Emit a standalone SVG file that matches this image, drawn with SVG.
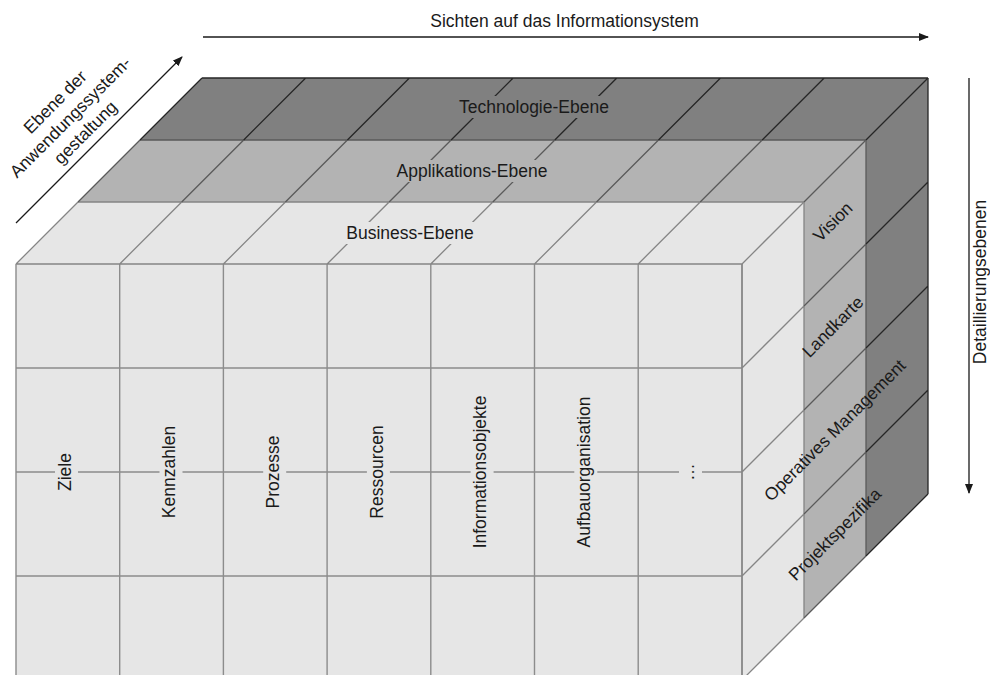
<svg xmlns="http://www.w3.org/2000/svg" width="990" height="675" viewBox="0 0 990 675">
  <style>
    text { font-family: "Liberation Sans", Arial, sans-serif; font-size: 17.5px; fill: #1a1a1a; }
    .mid { text-anchor: middle; }
    .light { fill: #e6e6e6; }
    .medium { fill: #b3b3b3; }
    .dark { fill: #808080; }
    .ln1 { stroke: #858585; stroke-width: 1.3; fill: none; }
    .ln2 { stroke: #5a5a5a; stroke-width: 1.3; fill: none; }
    .ln3 { stroke: #262626; stroke-width: 1.3; fill: none; }
    .grid { stroke: #8c8c8c; stroke-width: 1.4; fill: none; }
    .axis { stroke: #1a1a1a; stroke-width: 1.3; fill: none; marker-end: url(#head); }
  </style>
  <defs>
    <marker id="head" viewBox="0 0 10 8" refX="9" refY="4" markerWidth="10" markerHeight="8" markerUnits="userSpaceOnUse" orient="auto">
      <path d="M0,0 L10,4 L0,8 Z" fill="#1a1a1a"/>
    </marker>
  </defs>

  <!-- cube faces -->
  <g id="faces">
    <!-- Technologie layer (back) -->
    <polygon class="dark" points="140,140 866,140 928,78 202,78"/>
    <polygon class="dark" points="866,140 928,78 928,494 866,556"/>
    <!-- Applikations layer -->
    <polygon class="medium" points="78,202 804,202 866,140 140,140"/>
    <polygon class="medium" points="804,202 866,140 866,556 804,618"/>
    <!-- Business layer (front) -->
    <polygon class="light" points="16,264 742,264 804,202 78,202"/>
    <polygon class="light" points="742,264 804,202 804,618 742,680"/>
    <rect class="light" x="16" y="264" width="726" height="416"/>
  </g>

  <!-- grid on the front face -->
  <g id="front-grid" class="grid">
    <path d="M16,264 V680 M119.7,264 V680 M223.4,264 V680 M327.1,264 V680 M430.8,264 V680 M534.5,264 V680 M638.2,264 V680 M742,264 V680"/>
    <path d="M16,368 H742 M16,472 H742 M16,576 H742"/>
  </g>

  <!-- grid on the top faces (column diagonals and layer edges) -->
  <g id="top-grid">
    <path class="ln1" d="M16,264 H742 M78,202 H804
      M16,264 l62,-62 M119.7,264 l62,-62 M223.4,264 l62,-62 M327.1,264 l62,-62 M430.8,264 l62,-62 M534.5,264 l62,-62 M638.2,264 l62,-62 M742,264 l62,-62"/>
    <path class="ln2" d="M140,140 H866
      M78,202 l62,-62 M181.7,202 l62,-62 M285.4,202 l62,-62 M389.1,202 l62,-62 M492.8,202 l62,-62 M596.5,202 l62,-62 M700.2,202 l62,-62 M804,202 l62,-62"/>
    <path class="ln3" d="M202,78 H928
      M140,140 l62,-62 M243.7,140 l62,-62 M347.4,140 l62,-62 M451.1,140 l62,-62 M554.8,140 l62,-62 M658.5,140 l62,-62 M762.2,140 l62,-62 M866,140 l62,-62"/>
  </g>

  <!-- grid on the right faces (row diagonals and layer edges) -->
  <g id="side-grid">
    <path class="ln1" d="M742,264 V680 M804,202 V618
      M742,368 l62,-62 M742,472 l62,-62 M742,576 l62,-62 M742,680 l62,-62"/>
    <path class="ln2" d="M866,140 V556
      M804,306 l62,-62 M804,410 l62,-62 M804,514 l62,-62 M804,618 l62,-62"/>
    <path class="ln3" d="M928,78 V494
      M866,244 l62,-62 M866,348 l62,-62 M866,452 l62,-62 M866,556 l62,-62"/>
  </g>

  <!-- layer labels on the top faces -->
  <g id="layer-technologie">
    <rect class="dark" x="455" y="96" width="158" height="22"/>
    <text class="mid" x="534" y="113">Technologie-Ebene</text>
  </g>
  <g id="layer-applikationen">
    <rect class="medium" x="394" y="160" width="156" height="22"/>
    <text class="mid" x="472" y="177">Applikations-Ebene</text>
  </g>
  <g id="layer-business">
    <rect class="light" x="343" y="222" width="133" height="22"/>
    <text class="mid" x="410" y="239">Business-Ebene</text>
  </g>

  <!-- view labels on the front face -->
  <g id="view-ziele">
    <rect class="light" x="55" y="466" width="23" height="12"/>
    <text class="mid" transform="translate(71.4,472) rotate(-90)">Ziele</text>
  </g>
  <g id="view-kennzahlen">
    <rect class="light" x="159.5" y="466" width="23" height="12"/>
    <text class="mid" transform="translate(175.1,472) rotate(-90)">Kennzahlen</text>
  </g>
  <g id="view-prozesse">
    <rect class="light" x="263.2" y="466" width="23" height="12"/>
    <text class="mid" transform="translate(278.8,472) rotate(-90)">Prozesse</text>
  </g>
  <g id="view-ressourcen">
    <rect class="light" x="366.9" y="466" width="23" height="12"/>
    <text class="mid" transform="translate(382.5,472) rotate(-90)">Ressourcen</text>
  </g>
  <g id="view-informationsobjekte">
    <rect class="light" x="470.6" y="466" width="23" height="12"/>
    <text class="mid" transform="translate(486.2,472) rotate(-90)">Informationsobjekte</text>
  </g>
  <g id="view-aufbauorganisation">
    <rect class="light" x="574.3" y="466" width="23" height="12"/>
    <text class="mid" transform="translate(589.9,472) rotate(-90)">Aufbauorganisation</text>
  </g>
  <g id="view-weitere">
    <rect class="light" x="679" y="464" width="23" height="16"/>
    <text class="mid" transform="translate(693.6,472) rotate(-90)">…</text>
  </g>

  <!-- detail levels on the right faces -->
  <g id="level-vision">
    <text class="mid" transform="translate(837,226) rotate(-45)">Vision</text>
  </g>
  <g id="level-landkarte">
    <text class="mid" transform="translate(837,331) rotate(-45)">Landkarte</text>
  </g>
  <g id="level-operativ">
    <text class="mid" transform="translate(839,434.5) rotate(-45)">Operatives Management</text>
  </g>
  <g id="level-projekt">
    <text class="mid" transform="translate(839,538.5) rotate(-45)">Projektspezifika</text>
  </g>

  <!-- axes -->
  <g id="axes">
    <line class="axis" x1="203" y1="37" x2="928" y2="37"/>
    <line class="axis" x1="16" y1="223" x2="182" y2="57"/>
    <line class="axis" x1="969" y1="78" x2="969" y2="493"/>
  </g>
  <g id="axis-labels">
    <text class="mid" x="564.5" y="27">Sichten auf das Informationsystem</text>
    <g transform="translate(74.4,121.4) rotate(-45)">
      <text class="mid" x="0" y="-21.5">Ebene der</text>
      <text class="mid" x="0" y="0">Anwendungssystem-</text>
      <text class="mid" x="0" y="21.5">gestaltung</text>
    </g>
    <text class="mid" transform="translate(986,282) rotate(-90)">Detaillierungsebenen</text>
  </g>
</svg>
